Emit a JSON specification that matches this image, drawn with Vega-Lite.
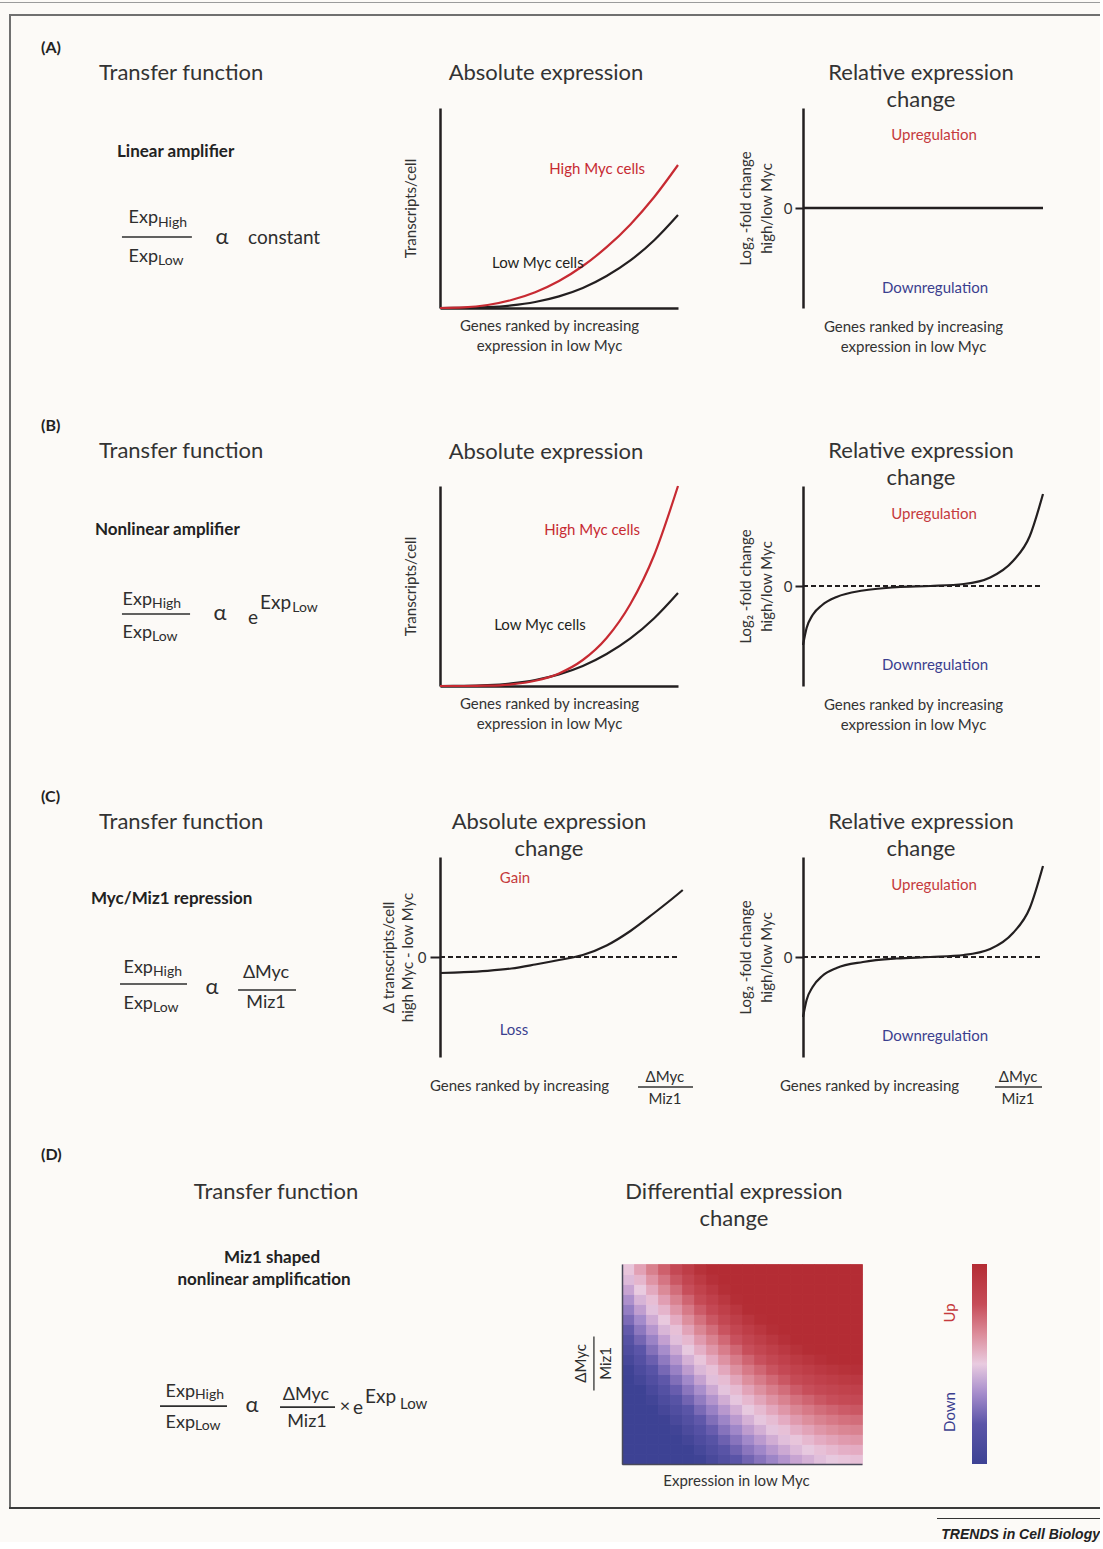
{
"$schema": "https://vega.github.io/schema/vega-lite/v6.json",
"background": "#fcfaf7",
"padding": {"left": 0, "top": 2, "right": 0, "bottom": 0},
"config": {
  "view": {"stroke": null},
  "font": "Lato",
  "text": {"font": "Lato", "color": "#2e2e2e", "baseline": "middle"},
  "axis": {"grid": false, "ticks": false, "labels": false, "domainColor": "#231f20", "domainWidth": 2.5, "titleFont": "Lato", "titleFontSize": 15, "titleFontWeight": "normal", "titleColor": "#333333", "titleLineHeight": 20, "labelFont": "Lato", "labelFontSize": 15, "labelColor": "#333333"},
  "title": {"font": "Lato", "fontSize": 22, "fontWeight": "normal", "color": "#333333", "baseline": "bottom", "frame": "group", "lineHeight": 27, "anchor": "middle"}
},
"spacing": 11,
"vconcat": [
  {"width": 1100, "height": 1, "view": {"fill": "#9b9b9b"}, "data": {"values": []}, "mark": "point"},
  {"spacing": 9, "vconcat": [
    {"spacing": 8, "hconcat": [
      {"width": 1, "height": 1, "data": {"values": []}, "mark": "point"},
      {"spacing": 0, "vconcat": [
        {"width": 1091, "height": 2, "view": {"fill": "#707070"}, "data": {"values": []}, "mark": "point"},
        {"spacing": 0, "hconcat": [
          {"width": 2, "height": 1491, "view": {"fill": "#707070"}, "data": {"values": []}, "mark": "point"},
          {"spacing": 0, "vconcat": [
          {"columns": 5, "spacing": 0, "bounds": "flush", "align": "each", "concat": [
            {"width": 1, "height": 92, "data": {"values": []}, "mark": "point"},
            {"width": 1, "height": 1, "data": {"values": []}, "mark": "point"},
            {"width": 1, "height": 1, "data": {"values": []}, "mark": "point"},
            {"width": 1, "height": 1, "data": {"values": []}, "mark": "point"},
            {"width": 1, "height": 1, "data": {"values": []}, "mark": "point"},

            {"width": 304, "height": 378,
             "data": {"values": [
               {"k":"row","t":"(A)","x":0.0987,"y":1.3},
               {"k":"head","t":"Transfer function","x":0.2895,"y":1.175},
               {"k":"name","t":"Linear amplifier","x":0.3487,"y":0.78},
               {"k":"exp","t":"Exp","x":0.4836,"y":0.45},
               {"k":"sub","t":"High","x":0.4836,"y":0.425},
               {"k":"exp","t":"Exp","x":0.4836,"y":0.255},
               {"k":"sub","t":"Low","x":0.4836,"y":0.235},
               {"k":"sym","t":"α","x":0.694,"y":0.355},
               {"k":"word","t":"constant","x":0.78,"y":0.352},
               {"k":"bar","x":0.365,"x2":0.595,"y":0.355}
             ]},
             "encoding": {"x": {"field":"x","type":"quantitative","scale":{"domain":[0,1]},"axis":null}, "y": {"field":"y","type":"quantitative","scale":{"domain":[-0.89,1]},"axis":null}},
             "layer": [
               {"transform":[{"filter":"datum.k==='row'"}],"mark":{"type":"text","align":"left","fontSize":16,"fontWeight":"bold","color":"#222222"},"encoding":{"text":{"field":"t"}}},
               {"transform":[{"filter":"datum.k==='head'"}],"mark":{"type":"text","align":"left","fontSize":22,"color":"#333333"},"encoding":{"text":{"field":"t"}}},
               {"transform":[{"filter":"datum.k==='name'"}],"mark":{"type":"text","align":"left","fontSize":17,"fontWeight":"bold","color":"#222222"},"encoding":{"text":{"field":"t"}}},
               {"transform":[{"filter":"datum.k==='exp'"}],"mark":{"type":"text","align":"right","fontSize":18},"encoding":{"text":{"field":"t"}}},
               {"transform":[{"filter":"datum.k==='sub'"}],"mark":{"type":"text","align":"left","fontSize":14},"encoding":{"text":{"field":"t"}}},
               {"transform":[{"filter":"datum.k==='sym'"}],"mark":{"type":"text","align":"center","fontSize":22},"encoding":{"text":{"field":"t"}}},
               {"transform":[{"filter":"datum.k==='word'"}],"mark":{"type":"text","align":"left","fontSize":19},"encoding":{"text":{"field":"t"}}},
               {"transform":[{"filter":"datum.k==='bar'"}],"mark":{"type":"rule","strokeWidth":1.6,"color":"#2e2e2e"},"encoding":{"x2":{"field":"x2"}}}
             ]},
            {"width": 125, "height": 1, "data": {"values": []}, "mark": "point"},
            {"width": 238, "height": 200,
             "title": {"text": "Absolute expression", "offset": 23, "dx": -13, "frame": "group"},
             "encoding": {
               "x": {"field":"x","type":"quantitative","scale":{"domain":[0,1]},"axis":{"title":["Genes ranked by increasing","expression in low Myc"],"titlePadding":10,"titleX":109}},
               "y": {"field":"y","type":"quantitative","scale":{"domain":[0,1]},"axis":{"title":"Transcripts/cell","titlePadding":22}}
             },
             "layer": [
               {"data":{"values":[
                 {"s":"Low","x":0,"y":0},{"s":"Low","x":0.1,"y":0.0005},{"s":"Low","x":0.2,"y":0.004},{"s":"Low","x":0.3,"y":0.013},{"s":"Low","x":0.4,"y":0.03},{"s":"Low","x":0.5,"y":0.058},{"s":"Low","x":0.6,"y":0.1},{"s":"Low","x":0.7,"y":0.16},{"s":"Low","x":0.8,"y":0.238},{"s":"Low","x":0.9,"y":0.339},{"s":"Low","x":1,"y":0.465},
                 {"s":"High","x":0,"y":0},{"s":"High","x":0.1,"y":0.003},{"s":"High","x":0.2,"y":0.015},{"s":"High","x":0.3,"y":0.04},{"s":"High","x":0.4,"y":0.079},{"s":"High","x":0.5,"y":0.135},{"s":"High","x":0.6,"y":0.21},{"s":"High","x":0.7,"y":0.304},{"s":"High","x":0.8,"y":0.418},{"s":"High","x":0.9,"y":0.555},{"s":"High","x":1,"y":0.715}
               ]},"mark":{"type":"line","interpolate":"monotone","strokeWidth":2.2},"encoding":{"color":{"field":"s","type":"nominal","scale":{"domain":["Low","High","up","down"],"range":["#231f20","#c72a32","#c53a3d","#3b3f8f"]},"legend":null}}},
               {"data":{"values":[{"t":"High Myc cells","s":"High","x":0.66,"y":0.695},{"t":"Low Myc cells","s":"Low","x":0.411,"y":0.225}]},"mark":{"type":"text","fontSize":15},"encoding":{"text":{"field":"t"},"color":{"field":"s","type":"nominal","scale":{"domain":["Low","High","up","down"],"range":["#231f20","#c72a32","#c53a3d","#3b3f8f"]},"legend":null}}}
             ]},
            {"width": 125, "height": 1, "data": {"values": []}, "mark": "point"},
            {"width": 240, "height": 200,
             "title": {"text": ["Relative expression", "change"], "offset": -4, "dx": -2, "frame": "group"},
             "encoding": {
               "x": {"field":"x","type":"quantitative","scale":{"domain":[0,1]},"axis":{"domain":false,"title":["Genes ranked by increasing","expression in low Myc"],"titlePadding":11,"titleX":110}},
               "y": {"field":"y","type":"quantitative","scale":{"domain":[-1,1]},"axis":{"values":[0],"labels":true,"ticks":true,"tickSize":8,"tickWidth":2,"tickColor":"#231f20","labelPadding":3,"title":["Log₂ -fold change","high/low Myc"],"titlePadding":9,"titleLineHeight":21}}
             },
             "layer": [
               {"data":{"values":[{"x":0,"x2":1,"y":0}]},"mark":{"type":"rule","strokeWidth":2.5,"color":"#231f20"},"encoding":{"x2":{"field":"x2"}}},
               {"data":{"values":[{"t":"Upregulation","s":"up","x":0.546,"y":0.73},{"t":"Downregulation","s":"down","x":0.55,"y":-0.8}]},"mark":{"type":"text","fontSize":15},"encoding":{"text":{"field":"t"},"color":{"field":"s","type":"nominal","scale":{"domain":["Low","High","up","down"],"range":["#231f20","#c72a32","#c53a3d","#3b3f8f"]},"legend":null}}}
             ]},

            {"width": 304, "height": 371,
             "data": {"values": [
               {"k":"row","t":"(B)","x":0.0987,"y":1.3},
               {"k":"head","t":"Transfer function","x":0.2895,"y":1.175},
               {"k":"name","t":"Nonlinear amplifier","x":0.276,"y":0.78},
               {"k":"exp","t":"Exp","x":0.464,"y":0.43},
               {"k":"sub","t":"High","x":0.464,"y":0.41},
               {"k":"exp","t":"Exp","x":0.464,"y":0.265},
               {"k":"sub","t":"Low","x":0.464,"y":0.245},
               {"k":"sym","t":"α","x":0.6875,"y":0.365},
               {"k":"word","t":"e","x":0.78,"y":0.34},
               {"k":"supe","t":"Exp","x":0.819,"y":0.415},
               {"k":"supl","t":"Low","x":0.925,"y":0.39},
               {"k":"bar","x":0.365,"x2":0.589,"y":0.36}
             ]},
             "encoding": {"x": {"field":"x","type":"quantitative","scale":{"domain":[0,1]},"axis":null}, "y": {"field":"y","type":"quantitative","scale":{"domain":[-0.855,1]},"axis":null}},
             "layer": [
               {"transform":[{"filter":"datum.k==='row'"}],"mark":{"type":"text","align":"left","fontSize":16,"fontWeight":"bold","color":"#222222"},"encoding":{"text":{"field":"t"}}},
               {"transform":[{"filter":"datum.k==='head'"}],"mark":{"type":"text","align":"left","fontSize":22,"color":"#333333"},"encoding":{"text":{"field":"t"}}},
               {"transform":[{"filter":"datum.k==='name'"}],"mark":{"type":"text","align":"left","fontSize":17,"fontWeight":"bold","color":"#222222"},"encoding":{"text":{"field":"t"}}},
               {"transform":[{"filter":"datum.k==='exp'"}],"mark":{"type":"text","align":"right","fontSize":18},"encoding":{"text":{"field":"t"}}},
               {"transform":[{"filter":"datum.k==='sub'"}],"mark":{"type":"text","align":"left","fontSize":14},"encoding":{"text":{"field":"t"}}},
               {"transform":[{"filter":"datum.k==='sym'"}],"mark":{"type":"text","align":"center","fontSize":22},"encoding":{"text":{"field":"t"}}},
               {"transform":[{"filter":"datum.k==='word'"}],"mark":{"type":"text","align":"left","fontSize":19},"encoding":{"text":{"field":"t"}}},
               {"transform":[{"filter":"datum.k==='supe'"}],"mark":{"type":"text","align":"left","fontSize":19},"encoding":{"text":{"field":"t"}}},
               {"transform":[{"filter":"datum.k==='supl'"}],"mark":{"type":"text","align":"left","fontSize":14},"encoding":{"text":{"field":"t"}}},
               {"transform":[{"filter":"datum.k==='bar'"}],"mark":{"type":"rule","strokeWidth":1.6,"color":"#2e2e2e"},"encoding":{"x2":{"field":"x2"}}}
             ]},
            {"width": 125, "height": 1, "data": {"values": []}, "mark": "point"},
            {"width": 238, "height": 200,
             "title": {"text": "Absolute expression", "offset": 18, "dx": -13, "frame": "group"},
             "encoding": {
               "x": {"field":"x","type":"quantitative","scale":{"domain":[0,1]},"axis":{"title":["Genes ranked by increasing","expression in low Myc"],"titlePadding":10,"titleX":109}},
               "y": {"field":"y","type":"quantitative","scale":{"domain":[0,1]},"axis":{"title":"Transcripts/cell","titlePadding":22}}
             },
             "layer": [
               {"data":{"values":[
                 {"s":"Low","x":0,"y":0},{"s":"Low","x":0.1,"y":0.0005},{"s":"Low","x":0.2,"y":0.004},{"s":"Low","x":0.3,"y":0.013},{"s":"Low","x":0.4,"y":0.03},{"s":"Low","x":0.5,"y":0.058},{"s":"Low","x":0.6,"y":0.1},{"s":"Low","x":0.7,"y":0.16},{"s":"Low","x":0.8,"y":0.238},{"s":"Low","x":0.9,"y":0.339},{"s":"Low","x":1,"y":0.465},
                 {"s":"High","x":0,"y":0},{"s":"High","x":0.1,"y":0.0001},{"s":"High","x":0.2,"y":0.0016},{"s":"High","x":0.3,"y":0.008},{"s":"High","x":0.4,"y":0.026},{"s":"High","x":0.5,"y":0.063},{"s":"High","x":0.6,"y":0.13},{"s":"High","x":0.7,"y":0.24},{"s":"High","x":0.8,"y":0.41},{"s":"High","x":0.9,"y":0.655},{"s":"High","x":1,"y":1}
               ]},"mark":{"type":"line","interpolate":"monotone","strokeWidth":2.2},"encoding":{"color":{"field":"s","type":"nominal","scale":{"domain":["Low","High","up","down"],"range":["#231f20","#c72a32","#c53a3d","#3b3f8f"]},"legend":null}}},
               {"data":{"values":[{"t":"High Myc cells","s":"High","x":0.639,"y":0.78},{"t":"Low Myc cells","s":"Low","x":0.42,"y":0.305}]},"mark":{"type":"text","fontSize":15},"encoding":{"text":{"field":"t"},"color":{"field":"s","type":"nominal","scale":{"domain":["Low","High","up","down"],"range":["#231f20","#c72a32","#c53a3d","#3b3f8f"]},"legend":null}}}
             ]},
            {"width": 125, "height": 1, "data": {"values": []}, "mark": "point"},
            {"width": 240, "height": 200,
             "title": {"text": ["Relative expression", "change"], "offset": -4, "dx": -2, "frame": "group"},
             "encoding": {
               "x": {"field":"x","type":"quantitative","scale":{"domain":[0,1]},"axis":{"domain":false,"title":["Genes ranked by increasing","expression in low Myc"],"titlePadding":11,"titleX":110}},
               "y": {"field":"y","type":"quantitative","scale":{"domain":[-1,1]},"axis":{"values":[0],"labels":true,"ticks":true,"tickSize":8,"tickWidth":2,"tickColor":"#231f20","labelPadding":3,"title":["Log₂ -fold change","high/low Myc"],"titlePadding":9,"titleLineHeight":21}}
             },
             "layer": [
               {"data":{"values":[{"x":0,"x2":1,"y":0}]},"mark":{"type":"rule","strokeWidth":2,"strokeDash":[5,3],"color":"#231f20"},"encoding":{"x2":{"field":"x2"}}},
               {"data":{"values":[
                 {"x":0,"y":-0.59},{"x":0.015,"y":-0.42},{"x":0.04,"y":-0.29},{"x":0.08,"y":-0.19},{"x":0.14,"y":-0.11},{"x":0.25,"y":-0.045},{"x":0.39,"y":-0.012},{"x":0.53,"y":0},{"x":0.67,"y":0.02},{"x":0.78,"y":0.085},{"x":0.875,"y":0.25},{"x":0.945,"y":0.5},{"x":1,"y":0.92}
               ]},"mark":{"type":"line","interpolate":"monotone","strokeWidth":2.2,"color":"#231f20"}},
               {"data":{"values":[{"t":"Upregulation","s":"up","x":0.546,"y":0.72},{"t":"Downregulation","s":"down","x":0.55,"y":-0.79}]},"mark":{"type":"text","fontSize":15},"encoding":{"text":{"field":"t"},"color":{"field":"s","type":"nominal","scale":{"domain":["Low","High","up","down"],"range":["#231f20","#c72a32","#c53a3d","#3b3f8f"]},"legend":null}}}
             ]},

            {"width": 304, "height": 277,
             "data": {"values": [
               {"k":"row","t":"(C)","x":0.0987,"y":1.3},
               {"k":"head","t":"Transfer function","x":0.2895,"y":1.175},
               {"k":"name","t":"Myc/Miz1 repression","x":0.263,"y":0.79},
               {"k":"exp","t":"Exp","x":0.467,"y":0.445},
               {"k":"sub","t":"High","x":0.467,"y":0.425},
               {"k":"exp","t":"Exp","x":0.467,"y":0.265},
               {"k":"sub","t":"Low","x":0.467,"y":0.245},
               {"k":"sym","t":"α","x":0.661,"y":0.35},
               {"k":"frac","t":"ΔMyc","x":0.839,"y":0.42},
               {"k":"frac","t":"Miz1","x":0.839,"y":0.27},
               {"k":"bar","x":0.3586,"x2":0.579,"y":0.365},
               {"k":"bar","x":0.747,"x2":0.9375,"y":0.335}
             ]},
             "encoding": {"x": {"field":"x","type":"quantitative","scale":{"domain":[0,1]},"axis":null}, "y": {"field":"y","type":"quantitative","scale":{"domain":[-0.385,1]},"axis":null}},
             "layer": [
               {"transform":[{"filter":"datum.k==='row'"}],"mark":{"type":"text","align":"left","fontSize":16,"fontWeight":"bold","color":"#222222"},"encoding":{"text":{"field":"t"}}},
               {"transform":[{"filter":"datum.k==='head'"}],"mark":{"type":"text","align":"left","fontSize":22,"color":"#333333"},"encoding":{"text":{"field":"t"}}},
               {"transform":[{"filter":"datum.k==='name'"}],"mark":{"type":"text","align":"left","fontSize":17,"fontWeight":"bold","color":"#222222"},"encoding":{"text":{"field":"t"}}},
               {"transform":[{"filter":"datum.k==='exp'"}],"mark":{"type":"text","align":"right","fontSize":18},"encoding":{"text":{"field":"t"}}},
               {"transform":[{"filter":"datum.k==='sub'"}],"mark":{"type":"text","align":"left","fontSize":14},"encoding":{"text":{"field":"t"}}},
               {"transform":[{"filter":"datum.k==='sym'"}],"mark":{"type":"text","align":"center","fontSize":22},"encoding":{"text":{"field":"t"}}},
               {"transform":[{"filter":"datum.k==='frac'"}],"mark":{"type":"text","align":"center","fontSize":18},"encoding":{"text":{"field":"t"}}},
               {"transform":[{"filter":"datum.k==='bar'"}],"mark":{"type":"rule","strokeWidth":1.6,"color":"#2e2e2e"},"encoding":{"x2":{"field":"x2"}}}
             ]},
            {"width": 125, "height": 1, "data": {"values": []}, "mark": "point"},
            {"width": 238, "height": 200,
             "title": {"text": ["Absolute expression", "change"], "offset": -4, "dx": -10, "frame": "group"},
             "encoding": {
               "x": {"field":"x","type":"quantitative","scale":{"domain":[0,1]},"axis":{"domain":false,"title":"Genes ranked by increasing","titlePadding":21,"titleX":79}},
               "y": {"field":"y","type":"quantitative","scale":{"domain":[-1,1]},"axis":{"values":[0],"labels":true,"ticks":true,"tickSize":10,"tickWidth":2,"tickColor":"#231f20","labelPadding":4,"title":["Δ transcripts/cell","high Myc - low Myc"],"titlePadding":2,"titleLineHeight":19}}
             },
             "layer": [
               {"data":{"values":[{"x":0,"x2":1,"y":0}]},"mark":{"type":"rule","strokeWidth":2,"strokeDash":[5,3],"color":"#231f20"},"encoding":{"x2":{"field":"x2"}}},
               {"data":{"values":[
                 {"x":0,"y":-0.16},{"x":0.1,"y":-0.152},{"x":0.2,"y":-0.138},{"x":0.3,"y":-0.115},{"x":0.4,"y":-0.075},{"x":0.5,"y":-0.03},{"x":0.6,"y":0.02},{"x":0.7,"y":0.115},{"x":0.8,"y":0.26},{"x":0.9,"y":0.44},{"x":1,"y":0.63},{"x":1.02,"y":0.67}
               ]},"mark":{"type":"line","interpolate":"monotone","strokeWidth":2.2,"color":"#231f20"}},
               {"data":{"values":[{"t":"Gain","s":"up","x":0.315,"y":0.79},{"t":"Loss","s":"down","x":0.311,"y":-0.73}]},"mark":{"type":"text","fontSize":15},"encoding":{"text":{"field":"t"},"color":{"field":"s","type":"nominal","scale":{"domain":["Low","High","up","down"],"range":["#231f20","#c72a32","#c53a3d","#3b3f8f"]},"legend":null}}},
               {"data":{"values":[{"t":"ΔMyc","x":0.945,"y":-1.2},{"t":"Miz1","x":0.945,"y":-1.42}]},"mark":{"type":"text","fontSize":15},"encoding":{"text":{"field":"t"}}},
               {"data":{"values":[{"x":0.832,"x2":1.063,"y":-1.3}]},"mark":{"type":"rule","strokeWidth":1.3,"color":"#333333"},"encoding":{"x2":{"field":"x2"}}}
             ]},
            {"width": 125, "height": 1, "data": {"values": []}, "mark": "point"},
            {"width": 240, "height": 200,
             "title": {"text": ["Relative expression", "change"], "offset": -4, "dx": -2, "frame": "group"},
             "encoding": {
               "x": {"field":"x","type":"quantitative","scale":{"domain":[0,1]},"axis":{"domain":false,"title":"Genes ranked by increasing","titlePadding":21,"titleX":66}},
               "y": {"field":"y","type":"quantitative","scale":{"domain":[-1,1]},"axis":{"values":[0],"labels":true,"ticks":true,"tickSize":8,"tickWidth":2,"tickColor":"#231f20","labelPadding":3,"title":["Log₂ -fold change","high/low Myc"],"titlePadding":9,"titleLineHeight":21}}
             },
             "layer": [
               {"data":{"values":[{"x":0,"x2":1,"y":0}]},"mark":{"type":"rule","strokeWidth":2,"strokeDash":[5,3],"color":"#231f20"},"encoding":{"x2":{"field":"x2"}}},
               {"data":{"values":[
                 {"x":0,"y":-0.6},{"x":0.015,"y":-0.43},{"x":0.04,"y":-0.3},{"x":0.08,"y":-0.19},{"x":0.14,"y":-0.11},{"x":0.25,"y":-0.05},{"x":0.39,"y":-0.015},{"x":0.53,"y":0},{"x":0.67,"y":0.02},{"x":0.78,"y":0.08},{"x":0.875,"y":0.24},{"x":0.945,"y":0.49},{"x":1,"y":0.91}
               ]},"mark":{"type":"line","interpolate":"monotone","strokeWidth":2.2,"color":"#231f20"}},
               {"data":{"values":[{"t":"Upregulation","s":"up","x":0.546,"y":0.72},{"t":"Downregulation","s":"down","x":0.55,"y":-0.79}]},"mark":{"type":"text","fontSize":15},"encoding":{"text":{"field":"t"},"color":{"field":"s","type":"nominal","scale":{"domain":["Low","High","up","down"],"range":["#231f20","#c72a32","#c53a3d","#3b3f8f"]},"legend":null}}},
               {"data":{"values":[{"t":"ΔMyc","x":0.896,"y":-1.2},{"t":"Miz1","x":0.896,"y":-1.42}]},"mark":{"type":"text","fontSize":15},"encoding":{"text":{"field":"t"}}},
               {"data":{"values":[{"x":0.8,"x2":0.996,"y":-1.3}]},"mark":{"type":"rule","strokeWidth":1.3,"color":"#333333"},"encoding":{"x2":{"field":"x2"}}}
             ]}
          ]},
          {"columns": 4, "spacing": 0, "bounds": "flush", "align": "each", "concat": [
            {"width": 1, "height": 130, "data": {"values": []}, "mark": "point"},
            {"width": 1, "height": 1, "data": {"values": []}, "mark": "point"},
            {"width": 1, "height": 1, "data": {"values": []}, "mark": "point"},
            {"width": 1, "height": 1, "data": {"values": []}, "mark": "point"},
            {"width": 611, "height": 243,
             "data": {"values": [
               {"k":"row","t":"(D)","x":0.0491,"y":1.548},
               {"k":"headc","t":"Transfer function","x":0.4337,"y":1.362},
               {"k":"namec","t":"Miz1 shaped","x":0.4272,"y":1.03},
               {"k":"namec","t":"nonlinear amplification","x":0.4141,"y":0.92},
               {"k":"exp","t":"Exp","x":0.3011,"y":0.357},
               {"k":"sub","t":"High","x":0.3011,"y":0.342},
               {"k":"exp","t":"Exp","x":0.3011,"y":0.201},
               {"k":"sub","t":"Low","x":0.3011,"y":0.186},
               {"k":"sym","t":"α","x":0.3944,"y":0.291},
               {"k":"frac","t":"ΔMyc","x":0.4828,"y":0.342},
               {"k":"frac","t":"Miz1","x":0.4845,"y":0.206},
               {"k":"frac","t":"×","x":0.5466,"y":0.281},
               {"k":"word","t":"e","x":0.5597,"y":0.276},
               {"k":"supe","t":"Exp","x":0.5794,"y":0.332},
               {"k":"supl","t":"Low","x":0.6367,"y":0.296},
               {"k":"bar","x":0.2439,"x2":0.3535,"y":0.286},
               {"k":"bar","x":0.4403,"x2":0.5303,"y":0.281}
             ]},
             "encoding": {"x": {"field":"x","type":"quantitative","scale":{"domain":[0,1]},"axis":null}, "y": {"field":"y","type":"quantitative","scale":{"domain":[-0.221,1]},"axis":null}},
             "layer": [
               {"transform":[{"filter":"datum.k==='row'"}],"mark":{"type":"text","align":"left","fontSize":16,"fontWeight":"bold","color":"#222222"},"encoding":{"text":{"field":"t"}}},
               {"transform":[{"filter":"datum.k==='headc'"}],"mark":{"type":"text","align":"center","fontSize":22,"color":"#333333"},"encoding":{"text":{"field":"t"}}},
               {"transform":[{"filter":"datum.k==='namec'"}],"mark":{"type":"text","align":"center","fontSize":17,"fontWeight":"bold","color":"#222222"},"encoding":{"text":{"field":"t"}}},
               {"transform":[{"filter":"datum.k==='exp'"}],"mark":{"type":"text","align":"right","fontSize":18},"encoding":{"text":{"field":"t"}}},
               {"transform":[{"filter":"datum.k==='sub'"}],"mark":{"type":"text","align":"left","fontSize":14},"encoding":{"text":{"field":"t"}}},
               {"transform":[{"filter":"datum.k==='sym'"}],"mark":{"type":"text","align":"center","fontSize":22},"encoding":{"text":{"field":"t"}}},
               {"transform":[{"filter":"datum.k==='frac'"}],"mark":{"type":"text","align":"center","fontSize":18},"encoding":{"text":{"field":"t"}}},
               {"transform":[{"filter":"datum.k==='word'"}],"mark":{"type":"text","align":"left","fontSize":19},"encoding":{"text":{"field":"t"}}},
               {"transform":[{"filter":"datum.k==='supe'"}],"mark":{"type":"text","align":"left","fontSize":19},"encoding":{"text":{"field":"t"}}},
               {"transform":[{"filter":"datum.k==='supl'"}],"mark":{"type":"text","align":"left","fontSize":15},"encoding":{"text":{"field":"t"}}},
               {"transform":[{"filter":"datum.k==='bar'"}],"mark":{"type":"rule","strokeWidth":1.6,"color":"#2e2e2e"},"encoding":{"x2":{"field":"x2"}}}
             ]},
            {"width": 240, "height": 200,
             "title": {"text": ["Differential expression", "change"], "offset": 33, "dx": -8, "frame": "group"},
             "layer": [
               {"data": {"values": [
{"u":0.025,"v":0.025,"f":-1},{"u":0.025,"v":0.075,"f":-1},{"u":0.025,"v":0.125,"f":-1},{"u":0.025,"v":0.175,"f":-1},{"u":0.025,"v":0.225,"f":-1},{"u":0.025,"v":0.275,"f":-1},{"u":0.025,"v":0.325,"f":-1},{"u":0.025,"v":0.375,"f":-1},{"u":0.025,"v":0.425,"f":-1},{"u":0.025,"v":0.475,"f":-0.97},{"u":0.025,"v":0.525,"f":-0.87},{"u":0.025,"v":0.575,"f":-0.77},{"u":0.025,"v":0.625,"f":-0.67},{"u":0.025,"v":0.675,"f":-0.57},{"u":0.025,"v":0.725,"f":-0.47},{"u":0.025,"v":0.775,"f":-0.37},{"u":0.025,"v":0.825,"f":-0.27},{"u":0.025,"v":0.875,"f":-0.17},{"u":0.025,"v":0.925,"f":-0.07},{"u":0.025,"v":0.975,"f":0.03},
{"u":0.075,"v":0.025,"f":-1},{"u":0.075,"v":0.075,"f":-1},{"u":0.075,"v":0.125,"f":-1},{"u":0.075,"v":0.175,"f":-1},{"u":0.075,"v":0.225,"f":-1},{"u":0.075,"v":0.275,"f":-1},{"u":0.075,"v":0.325,"f":-1},{"u":0.075,"v":0.375,"f":-1},{"u":0.075,"v":0.425,"f":-0.9},{"u":0.075,"v":0.475,"f":-0.8},{"u":0.075,"v":0.525,"f":-0.7},{"u":0.075,"v":0.575,"f":-0.6},{"u":0.075,"v":0.625,"f":-0.5},{"u":0.075,"v":0.675,"f":-0.4},{"u":0.075,"v":0.725,"f":-0.3},{"u":0.075,"v":0.775,"f":-0.2},{"u":0.075,"v":0.825,"f":-0.1},{"u":0.075,"v":0.875,"f":0},{"u":0.075,"v":0.925,"f":0.1},{"u":0.075,"v":0.975,"f":0.2},
{"u":0.125,"v":0.025,"f":-1},{"u":0.125,"v":0.075,"f":-1},{"u":0.125,"v":0.125,"f":-1},{"u":0.125,"v":0.175,"f":-1},{"u":0.125,"v":0.225,"f":-1},{"u":0.125,"v":0.275,"f":-1},{"u":0.125,"v":0.325,"f":-0.94},{"u":0.125,"v":0.375,"f":-0.84},{"u":0.125,"v":0.425,"f":-0.74},{"u":0.125,"v":0.475,"f":-0.64},{"u":0.125,"v":0.525,"f":-0.54},{"u":0.125,"v":0.575,"f":-0.44},{"u":0.125,"v":0.625,"f":-0.34},{"u":0.125,"v":0.675,"f":-0.24},{"u":0.125,"v":0.725,"f":-0.14},{"u":0.125,"v":0.775,"f":-0.04},{"u":0.125,"v":0.825,"f":0.06},{"u":0.125,"v":0.875,"f":0.16},{"u":0.125,"v":0.925,"f":0.26},{"u":0.125,"v":0.975,"f":0.36},
{"u":0.175,"v":0.025,"f":-1},{"u":0.175,"v":0.075,"f":-1},{"u":0.175,"v":0.125,"f":-1},{"u":0.175,"v":0.175,"f":-1},{"u":0.175,"v":0.225,"f":-0.99},{"u":0.175,"v":0.275,"f":-0.89},{"u":0.175,"v":0.325,"f":-0.79},{"u":0.175,"v":0.375,"f":-0.69},{"u":0.175,"v":0.425,"f":-0.59},{"u":0.175,"v":0.475,"f":-0.49},{"u":0.175,"v":0.525,"f":-0.39},{"u":0.175,"v":0.575,"f":-0.29},{"u":0.175,"v":0.625,"f":-0.19},{"u":0.175,"v":0.675,"f":-0.09},{"u":0.175,"v":0.725,"f":0.01},{"u":0.175,"v":0.775,"f":0.11},{"u":0.175,"v":0.825,"f":0.21},{"u":0.175,"v":0.875,"f":0.31},{"u":0.175,"v":0.925,"f":0.41},{"u":0.175,"v":0.975,"f":0.51},
{"u":0.225,"v":0.025,"f":-1},{"u":0.225,"v":0.075,"f":-1},{"u":0.225,"v":0.125,"f":-1},{"u":0.225,"v":0.175,"f":-0.95},{"u":0.225,"v":0.225,"f":-0.85},{"u":0.225,"v":0.275,"f":-0.75},{"u":0.225,"v":0.325,"f":-0.65},{"u":0.225,"v":0.375,"f":-0.55},{"u":0.225,"v":0.425,"f":-0.45},{"u":0.225,"v":0.475,"f":-0.35},{"u":0.225,"v":0.525,"f":-0.25},{"u":0.225,"v":0.575,"f":-0.15},{"u":0.225,"v":0.625,"f":-0.05},{"u":0.225,"v":0.675,"f":0.05},{"u":0.225,"v":0.725,"f":0.15},{"u":0.225,"v":0.775,"f":0.25},{"u":0.225,"v":0.825,"f":0.35},{"u":0.225,"v":0.875,"f":0.45},{"u":0.225,"v":0.925,"f":0.55},{"u":0.225,"v":0.975,"f":0.65},
{"u":0.275,"v":0.025,"f":-1},{"u":0.275,"v":0.075,"f":-1},{"u":0.275,"v":0.125,"f":-0.91},{"u":0.275,"v":0.175,"f":-0.81},{"u":0.275,"v":0.225,"f":-0.71},{"u":0.275,"v":0.275,"f":-0.61},{"u":0.275,"v":0.325,"f":-0.51},{"u":0.275,"v":0.375,"f":-0.41},{"u":0.275,"v":0.425,"f":-0.31},{"u":0.275,"v":0.475,"f":-0.21},{"u":0.275,"v":0.525,"f":-0.11},{"u":0.275,"v":0.575,"f":-0.01},{"u":0.275,"v":0.625,"f":0.09},{"u":0.275,"v":0.675,"f":0.19},{"u":0.275,"v":0.725,"f":0.29},{"u":0.275,"v":0.775,"f":0.39},{"u":0.275,"v":0.825,"f":0.49},{"u":0.275,"v":0.875,"f":0.59},{"u":0.275,"v":0.925,"f":0.69},{"u":0.275,"v":0.975,"f":0.79},
{"u":0.325,"v":0.025,"f":-0.98},{"u":0.325,"v":0.075,"f":-0.88},{"u":0.325,"v":0.125,"f":-0.78},{"u":0.325,"v":0.175,"f":-0.68},{"u":0.325,"v":0.225,"f":-0.58},{"u":0.325,"v":0.275,"f":-0.48},{"u":0.325,"v":0.325,"f":-0.38},{"u":0.325,"v":0.375,"f":-0.28},{"u":0.325,"v":0.425,"f":-0.18},{"u":0.325,"v":0.475,"f":-0.08},{"u":0.325,"v":0.525,"f":0.03},{"u":0.325,"v":0.575,"f":0.13},{"u":0.325,"v":0.625,"f":0.23},{"u":0.325,"v":0.675,"f":0.33},{"u":0.325,"v":0.725,"f":0.43},{"u":0.325,"v":0.775,"f":0.53},{"u":0.325,"v":0.825,"f":0.63},{"u":0.325,"v":0.875,"f":0.73},{"u":0.325,"v":0.925,"f":0.83},{"u":0.325,"v":0.975,"f":0.93},
{"u":0.375,"v":0.025,"f":-0.85},{"u":0.375,"v":0.075,"f":-0.75},{"u":0.375,"v":0.125,"f":-0.65},{"u":0.375,"v":0.175,"f":-0.55},{"u":0.375,"v":0.225,"f":-0.45},{"u":0.375,"v":0.275,"f":-0.35},{"u":0.375,"v":0.325,"f":-0.25},{"u":0.375,"v":0.375,"f":-0.15},{"u":0.375,"v":0.425,"f":-0.05},{"u":0.375,"v":0.475,"f":0.05},{"u":0.375,"v":0.525,"f":0.15},{"u":0.375,"v":0.575,"f":0.25},{"u":0.375,"v":0.625,"f":0.35},{"u":0.375,"v":0.675,"f":0.45},{"u":0.375,"v":0.725,"f":0.55},{"u":0.375,"v":0.775,"f":0.65},{"u":0.375,"v":0.825,"f":0.75},{"u":0.375,"v":0.875,"f":0.85},{"u":0.375,"v":0.925,"f":0.95},{"u":0.375,"v":0.975,"f":1},
{"u":0.425,"v":0.025,"f":-0.73},{"u":0.425,"v":0.075,"f":-0.63},{"u":0.425,"v":0.125,"f":-0.53},{"u":0.425,"v":0.175,"f":-0.43},{"u":0.425,"v":0.225,"f":-0.33},{"u":0.425,"v":0.275,"f":-0.23},{"u":0.425,"v":0.325,"f":-0.13},{"u":0.425,"v":0.375,"f":-0.03},{"u":0.425,"v":0.425,"f":0.07},{"u":0.425,"v":0.475,"f":0.17},{"u":0.425,"v":0.525,"f":0.27},{"u":0.425,"v":0.575,"f":0.37},{"u":0.425,"v":0.625,"f":0.47},{"u":0.425,"v":0.675,"f":0.57},{"u":0.425,"v":0.725,"f":0.67},{"u":0.425,"v":0.775,"f":0.77},{"u":0.425,"v":0.825,"f":0.87},{"u":0.425,"v":0.875,"f":0.97},{"u":0.425,"v":0.925,"f":1},{"u":0.425,"v":0.975,"f":1},
{"u":0.475,"v":0.025,"f":-0.62},{"u":0.475,"v":0.075,"f":-0.52},{"u":0.475,"v":0.125,"f":-0.42},{"u":0.475,"v":0.175,"f":-0.32},{"u":0.475,"v":0.225,"f":-0.22},{"u":0.475,"v":0.275,"f":-0.12},{"u":0.475,"v":0.325,"f":-0.02},{"u":0.475,"v":0.375,"f":0.08},{"u":0.475,"v":0.425,"f":0.18},{"u":0.475,"v":0.475,"f":0.28},{"u":0.475,"v":0.525,"f":0.38},{"u":0.475,"v":0.575,"f":0.48},{"u":0.475,"v":0.625,"f":0.58},{"u":0.475,"v":0.675,"f":0.68},{"u":0.475,"v":0.725,"f":0.78},{"u":0.475,"v":0.775,"f":0.88},{"u":0.475,"v":0.825,"f":0.98},{"u":0.475,"v":0.875,"f":1},{"u":0.475,"v":0.925,"f":1},{"u":0.475,"v":0.975,"f":1},
{"u":0.525,"v":0.025,"f":-0.51},{"u":0.525,"v":0.075,"f":-0.41},{"u":0.525,"v":0.125,"f":-0.31},{"u":0.525,"v":0.175,"f":-0.21},{"u":0.525,"v":0.225,"f":-0.11},{"u":0.525,"v":0.275,"f":-0.01},{"u":0.525,"v":0.325,"f":0.09},{"u":0.525,"v":0.375,"f":0.19},{"u":0.525,"v":0.425,"f":0.29},{"u":0.525,"v":0.475,"f":0.39},{"u":0.525,"v":0.525,"f":0.49},{"u":0.525,"v":0.575,"f":0.59},{"u":0.525,"v":0.625,"f":0.69},{"u":0.525,"v":0.675,"f":0.79},{"u":0.525,"v":0.725,"f":0.89},{"u":0.525,"v":0.775,"f":0.99},{"u":0.525,"v":0.825,"f":1},{"u":0.525,"v":0.875,"f":1},{"u":0.525,"v":0.925,"f":1},{"u":0.525,"v":0.975,"f":1},
{"u":0.575,"v":0.025,"f":-0.42},{"u":0.575,"v":0.075,"f":-0.32},{"u":0.575,"v":0.125,"f":-0.22},{"u":0.575,"v":0.175,"f":-0.12},{"u":0.575,"v":0.225,"f":-0.02},{"u":0.575,"v":0.275,"f":0.08},{"u":0.575,"v":0.325,"f":0.18},{"u":0.575,"v":0.375,"f":0.28},{"u":0.575,"v":0.425,"f":0.38},{"u":0.575,"v":0.475,"f":0.48},{"u":0.575,"v":0.525,"f":0.58},{"u":0.575,"v":0.575,"f":0.68},{"u":0.575,"v":0.625,"f":0.78},{"u":0.575,"v":0.675,"f":0.88},{"u":0.575,"v":0.725,"f":0.98},{"u":0.575,"v":0.775,"f":1},{"u":0.575,"v":0.825,"f":1},{"u":0.575,"v":0.875,"f":1},{"u":0.575,"v":0.925,"f":1},{"u":0.575,"v":0.975,"f":1},
{"u":0.625,"v":0.025,"f":-0.33},{"u":0.625,"v":0.075,"f":-0.23},{"u":0.625,"v":0.125,"f":-0.13},{"u":0.625,"v":0.175,"f":-0.03},{"u":0.625,"v":0.225,"f":0.07},{"u":0.625,"v":0.275,"f":0.17},{"u":0.625,"v":0.325,"f":0.27},{"u":0.625,"v":0.375,"f":0.37},{"u":0.625,"v":0.425,"f":0.47},{"u":0.625,"v":0.475,"f":0.57},{"u":0.625,"v":0.525,"f":0.67},{"u":0.625,"v":0.575,"f":0.77},{"u":0.625,"v":0.625,"f":0.87},{"u":0.625,"v":0.675,"f":0.97},{"u":0.625,"v":0.725,"f":1},{"u":0.625,"v":0.775,"f":1},{"u":0.625,"v":0.825,"f":1},{"u":0.625,"v":0.875,"f":1},{"u":0.625,"v":0.925,"f":1},{"u":0.625,"v":0.975,"f":1},
{"u":0.675,"v":0.025,"f":-0.25},{"u":0.675,"v":0.075,"f":-0.15},{"u":0.675,"v":0.125,"f":-0.05},{"u":0.675,"v":0.175,"f":0.05},{"u":0.675,"v":0.225,"f":0.15},{"u":0.675,"v":0.275,"f":0.25},{"u":0.675,"v":0.325,"f":0.35},{"u":0.675,"v":0.375,"f":0.45},{"u":0.675,"v":0.425,"f":0.55},{"u":0.675,"v":0.475,"f":0.65},{"u":0.675,"v":0.525,"f":0.75},{"u":0.675,"v":0.575,"f":0.85},{"u":0.675,"v":0.625,"f":0.95},{"u":0.675,"v":0.675,"f":1},{"u":0.675,"v":0.725,"f":1},{"u":0.675,"v":0.775,"f":1},{"u":0.675,"v":0.825,"f":1},{"u":0.675,"v":0.875,"f":1},{"u":0.675,"v":0.925,"f":1},{"u":0.675,"v":0.975,"f":1},
{"u":0.725,"v":0.025,"f":-0.17},{"u":0.725,"v":0.075,"f":-0.07},{"u":0.725,"v":0.125,"f":0.03},{"u":0.725,"v":0.175,"f":0.13},{"u":0.725,"v":0.225,"f":0.23},{"u":0.725,"v":0.275,"f":0.33},{"u":0.725,"v":0.325,"f":0.43},{"u":0.725,"v":0.375,"f":0.53},{"u":0.725,"v":0.425,"f":0.63},{"u":0.725,"v":0.475,"f":0.73},{"u":0.725,"v":0.525,"f":0.83},{"u":0.725,"v":0.575,"f":0.93},{"u":0.725,"v":0.625,"f":1},{"u":0.725,"v":0.675,"f":1},{"u":0.725,"v":0.725,"f":1},{"u":0.725,"v":0.775,"f":1},{"u":0.725,"v":0.825,"f":1},{"u":0.725,"v":0.875,"f":1},{"u":0.725,"v":0.925,"f":1},{"u":0.725,"v":0.975,"f":1},
{"u":0.775,"v":0.025,"f":-0.11},{"u":0.775,"v":0.075,"f":-0.01},{"u":0.775,"v":0.125,"f":0.09},{"u":0.775,"v":0.175,"f":0.19},{"u":0.775,"v":0.225,"f":0.29},{"u":0.775,"v":0.275,"f":0.39},{"u":0.775,"v":0.325,"f":0.49},{"u":0.775,"v":0.375,"f":0.59},{"u":0.775,"v":0.425,"f":0.69},{"u":0.775,"v":0.475,"f":0.79},{"u":0.775,"v":0.525,"f":0.89},{"u":0.775,"v":0.575,"f":0.99},{"u":0.775,"v":0.625,"f":1},{"u":0.775,"v":0.675,"f":1},{"u":0.775,"v":0.725,"f":1},{"u":0.775,"v":0.775,"f":1},{"u":0.775,"v":0.825,"f":1},{"u":0.775,"v":0.875,"f":1},{"u":0.775,"v":0.925,"f":1},{"u":0.775,"v":0.975,"f":1},
{"u":0.825,"v":0.025,"f":-0.05},{"u":0.825,"v":0.075,"f":0.05},{"u":0.825,"v":0.125,"f":0.15},{"u":0.825,"v":0.175,"f":0.25},{"u":0.825,"v":0.225,"f":0.35},{"u":0.825,"v":0.275,"f":0.45},{"u":0.825,"v":0.325,"f":0.55},{"u":0.825,"v":0.375,"f":0.65},{"u":0.825,"v":0.425,"f":0.75},{"u":0.825,"v":0.475,"f":0.85},{"u":0.825,"v":0.525,"f":0.95},{"u":0.825,"v":0.575,"f":1},{"u":0.825,"v":0.625,"f":1},{"u":0.825,"v":0.675,"f":1},{"u":0.825,"v":0.725,"f":1},{"u":0.825,"v":0.775,"f":1},{"u":0.825,"v":0.825,"f":1},{"u":0.825,"v":0.875,"f":1},{"u":0.825,"v":0.925,"f":1},{"u":0.825,"v":0.975,"f":1},
{"u":0.875,"v":0.025,"f":-0.01},{"u":0.875,"v":0.075,"f":0.09},{"u":0.875,"v":0.125,"f":0.19},{"u":0.875,"v":0.175,"f":0.29},{"u":0.875,"v":0.225,"f":0.39},{"u":0.875,"v":0.275,"f":0.49},{"u":0.875,"v":0.325,"f":0.59},{"u":0.875,"v":0.375,"f":0.69},{"u":0.875,"v":0.425,"f":0.79},{"u":0.875,"v":0.475,"f":0.89},{"u":0.875,"v":0.525,"f":0.99},{"u":0.875,"v":0.575,"f":1},{"u":0.875,"v":0.625,"f":1},{"u":0.875,"v":0.675,"f":1},{"u":0.875,"v":0.725,"f":1},{"u":0.875,"v":0.775,"f":1},{"u":0.875,"v":0.825,"f":1},{"u":0.875,"v":0.875,"f":1},{"u":0.875,"v":0.925,"f":1},{"u":0.875,"v":0.975,"f":1},
{"u":0.925,"v":0.025,"f":0.03},{"u":0.925,"v":0.075,"f":0.13},{"u":0.925,"v":0.125,"f":0.23},{"u":0.925,"v":0.175,"f":0.33},{"u":0.925,"v":0.225,"f":0.43},{"u":0.925,"v":0.275,"f":0.53},{"u":0.925,"v":0.325,"f":0.63},{"u":0.925,"v":0.375,"f":0.73},{"u":0.925,"v":0.425,"f":0.83},{"u":0.925,"v":0.475,"f":0.93},{"u":0.925,"v":0.525,"f":1},{"u":0.925,"v":0.575,"f":1},{"u":0.925,"v":0.625,"f":1},{"u":0.925,"v":0.675,"f":1},{"u":0.925,"v":0.725,"f":1},{"u":0.925,"v":0.775,"f":1},{"u":0.925,"v":0.825,"f":1},{"u":0.925,"v":0.875,"f":1},{"u":0.925,"v":0.925,"f":1},{"u":0.925,"v":0.975,"f":1},
{"u":0.975,"v":0.025,"f":0.05},{"u":0.975,"v":0.075,"f":0.15},{"u":0.975,"v":0.125,"f":0.25},{"u":0.975,"v":0.175,"f":0.35},{"u":0.975,"v":0.225,"f":0.45},{"u":0.975,"v":0.275,"f":0.55},{"u":0.975,"v":0.325,"f":0.65},{"u":0.975,"v":0.375,"f":0.75},{"u":0.975,"v":0.425,"f":0.85},{"u":0.975,"v":0.475,"f":0.95},{"u":0.975,"v":0.525,"f":1},{"u":0.975,"v":0.575,"f":1},{"u":0.975,"v":0.625,"f":1},{"u":0.975,"v":0.675,"f":1},{"u":0.975,"v":0.725,"f":1},{"u":0.975,"v":0.775,"f":1},{"u":0.975,"v":0.825,"f":1},{"u":0.975,"v":0.875,"f":1},{"u":0.975,"v":0.925,"f":1},{"u":0.975,"v":0.975,"f":1}
               ]},
                "mark": {"type": "rect", "strokeWidth": 0.8},
                "encoding": {
                  "x": {"field":"u","type":"quantitative","bin":{"step":0.05,"extent":[0,1]},"scale":{"domain":[0,1]},"axis":{"domainColor":"#4a4a5a","domainWidth":1.5,"title":"Expression in low Myc","titlePadding":9.5,"titleX":114}},
                  "y": {"field":"v","type":"quantitative","bin":{"step":0.05,"extent":[0,1]},"scale":{"domain":[0,1]},"axis":{"domainColor":"#4a4a5a","domainWidth":1.5,"title":null}},
                  "color": {"field":"f","type":"quantitative","scale":{"domain":[-1,-0.6,-0.3,0,0.3,0.6,1],"range":["#3d4294","#5b55a8","#a48bcb","#e9cbe0","#dc8c9a","#c64c58","#b42c34"],"clamp":true},"legend":null},
                  "stroke": {"field":"f","type":"quantitative","scale":{"domain":[-1,-0.6,-0.3,0,0.3,0.6,1],"range":["#3d4294","#5b55a8","#a48bcb","#e9cbe0","#dc8c9a","#c64c58","#b42c34"],"clamp":true},"legend":null}
                }},
               {"data":{"values":[{"t":"ΔMyc","x":-0.171,"y":0.503},{"t":"Miz1","x":-0.067,"y":0.503}]},"mark":{"type":"text","angle":270,"fontSize":15},
                "encoding":{"x":{"field":"x","type":"quantitative","scale":{"domain":[0,1]},"axis":{"domainColor":"#4a4a5a","domainWidth":1.5,"title":"Expression in low Myc","titlePadding":9.5,"titleX":114}},"y":{"field":"y","type":"quantitative","scale":{"domain":[0,1]},"axis":{"domainColor":"#4a4a5a","domainWidth":1.5,"title":null}},"text":{"field":"t"}}},
               {"data":{"values":[{"x":-0.117,"y":0.367,"y2":0.638}]},"mark":{"type":"rule","strokeWidth":1.3,"color":"#333333"},
                "encoding":{"x":{"field":"x","type":"quantitative","scale":{"domain":[0,1]},"axis":{"domainColor":"#4a4a5a","domainWidth":1.5,"title":"Expression in low Myc","titlePadding":9.5,"titleX":114}},"y":{"field":"y","type":"quantitative","scale":{"domain":[0,1]},"axis":{"domainColor":"#4a4a5a","domainWidth":1.5,"title":null}},"y2":{"field":"y2"}}}
             ]},
            {"width": 110, "height": 1, "data": {"values": []}, "mark": "point"},
            {"width": 15, "height": 200,
             "encoding": {"x": {"field":"x","type":"quantitative","scale":{"domain":[0,1]},"axis":null}, "y": {"field":"y","type":"quantitative","scale":{"domain":[-1,1]},"axis":null}},
             "layer": [
               {"data":{"values":[{"x":0,"x2":1,"y":-1,"y2":1}]},"mark":{"type":"rect","fill":{"gradient":"linear","x1":0,"y1":1,"x2":0,"y2":0,"stops":[{"offset":0,"color":"#3d4294"},{"offset":0.2,"color":"#5b55a8"},{"offset":0.35,"color":"#a48bcb"},{"offset":0.5,"color":"#e9cbe0"},{"offset":0.65,"color":"#dc8c9a"},{"offset":0.8,"color":"#c64c58"},{"offset":1,"color":"#b42c34"}]}},"encoding":{"x2":{"field":"x2"},"y2":{"field":"y2"}}},
               {"data":{"values":[{"t":"Up","s":"up","x":-1.47,"y":0.51},{"t":"Down","s":"down","x":-1.47,"y":-0.48}]},"mark":{"type":"text","angle":270,"fontSize":15},"encoding":{"text":{"field":"t"},"color":{"field":"s","type":"nominal","scale":{"domain":["Low","High","up","down"],"range":["#231f20","#c72a32","#c53a3d","#3b3f8f"]},"legend":null}}}
             ]}
          ]}
          ]}
        ]},
        {"width": 1091, "height": 2, "view": {"fill": "#3a3a3a"}, "data": {"values": []}, "mark": "point"}
      ]}
    ]},
    {"spacing": 936, "hconcat": [
      {"width": 1, "height": 1, "data": {"values": []}, "mark": "point"},
      {"width": 163, "height": 1, "view": {"fill": "#333333"}, "data": {"values": []}, "mark": "point",
       "title": {"text": "TRENDS in Cell Biology", "orient": "bottom", "anchor": "end", "font": "Liberation Sans", "fontSize": 14, "fontStyle": "italic", "fontWeight": "bold", "color": "#222222", "baseline": "top", "offset": 9}}
    ]}
  ]}
]
}
